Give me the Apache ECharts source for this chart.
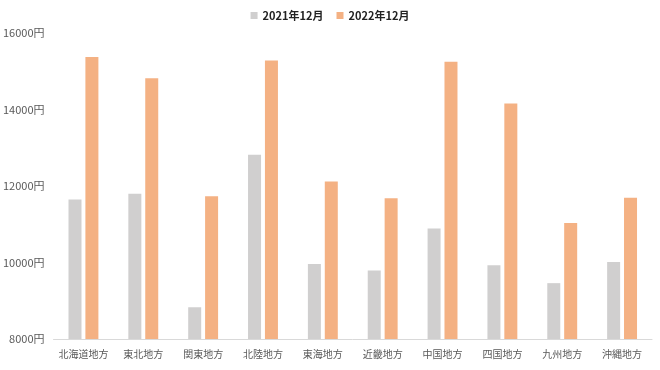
<!DOCTYPE html>
<html><head><meta charset="utf-8">
<script src="https://cdn.jsdelivr.net/npm/echarts@6/dist/echarts.min.js"></script>
<style>html,body{margin:0;padding:0;background:#fff}#c{width:660px;height:370px}</style>
</head><body><div id="c"></div>
<script>
const categories = ['北海道地方','東北地方','関東地方','北陸地方','東海地方','近畿地方','中国地方','四国地方','九州地方','沖縄地方'];
const series2021 = [11650, 11800, 8830, 12820, 9960, 9790, 10890, 9930, 9460, 10010];
const series2022 = [15370, 14820, 11730, 15280, 12120, 11680, 15250, 14160, 11030, 11690];
const seriesNames = ['2021年12月','2022年12月'];
const font = '"Noto Sans CJK JP", "Noto Sans", sans-serif';
const chart = echarts.init(document.getElementById('c'), null, {renderer:'canvas'});
chart.setOption({
  animation:false,
  textStyle:{fontFamily:font},
  legend:{top:5,left:'center',itemWidth:7,itemHeight:7,itemGap:13,icon:'rect',
    textStyle:{fontFamily:font,fontSize:11,fontWeight:'bold',color:'#222'},
    data:seriesNames},
  grid:{left:53,right:8,top:33,bottom:31,containLabel:false},
  xAxis:{type:'category',data:categories,
    axisLine:{lineStyle:{color:'#d9d9d9',width:1}},axisTick:{show:false},
    axisLabel:{interval:0,color:'#595959',fontSize:10,fontFamily:font,margin:10}},
  yAxis:{type:'value',min:8000,max:16000,interval:2000,
    splitLine:{show:false},axisLine:{show:false},axisTick:{show:false},
    axisLabel:{color:'#595959',fontSize:11,fontFamily:font,margin:9,formatter:v=>v+'円'}},
  series:[
    {name:seriesNames[0],type:'bar',data:series2021,barWidth:13,barGap:'30%',itemStyle:{color:'#d0cfcf'}},
    {name:seriesNames[1],type:'bar',data:series2022,barWidth:13,itemStyle:{color:'#f4b183'}}
  ]
});
</script></body></html>
